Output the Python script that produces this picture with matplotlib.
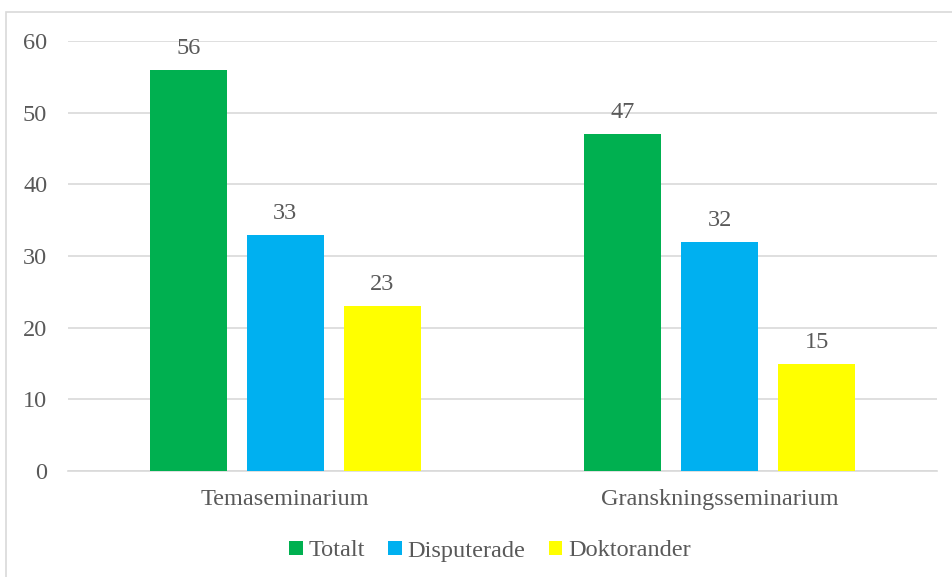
import matplotlib
matplotlib.use("Agg")
import matplotlib.pyplot as plt
import numpy as np
from matplotlib.patches import Rectangle

categories = ["Temaseminarium", "Granskningsseminarium"]
series = ["Totalt", "Disputerade", "Doktorander"]
totalt = [56, 47]
disputerade = [33, 32]
doktorander = [23, 15]
colors = ["#00B050", "#00B0F0", "#FFFF00"]

plt.rcParams['font.family'] = ['Liberation Serif', 'DejaVu Serif']
txt = "#595959"
fs = 17.5

fig = plt.figure(figsize=(9.52, 5.77), dpi=100)
fig.patches.append(Rectangle((6/952, -0.1), 1.2, 1.1 - 12/577, transform=fig.transFigure,
                             fill=False, edgecolor="#D9D9D9", linewidth=1.2))
ax = fig.add_axes([68/952, 1 - 471/577, (937-68)/952, (471-41)/577])

x = np.arange(len(categories))
w = 0.177
step = 0.223
for i, (vals, name) in enumerate(zip([totalt, disputerade, doktorander], series)):
    pos = x + (i - 1) * step
    bars = ax.bar(pos, vals, width=w, color=colors[i], label=name, zorder=3)
    for b, v in zip(bars, vals):
        ax.annotate(str(v), (b.get_x() + b.get_width()/2, v), xytext=(0, 11.5),
                    textcoords="offset points", ha="center", va="baseline",
                    fontsize=fs, color=txt)

ax.set_xlim(-0.5, 1.5)
ax.set_ylim(0, 60)
ax.set_yticks(range(0, 61, 10))
ax.yaxis.grid(True, color="#D9D9D9", linewidth=1.2, zorder=0)
for s in ["top", "right", "left"]:
    ax.spines[s].set_visible(False)
ax.spines["bottom"].set_color("#D9D9D9")
ax.spines["bottom"].set_linewidth(1.2)
ax.set_xticks(x)
ax.set_xticklabels(categories)
ax.tick_params(axis="both", length=0, labelsize=fs, colors=txt)
ax.tick_params(axis="x", pad=13)
ax.tick_params(axis="y", pad=15)

leg = fig.legend(loc="center", bbox_to_anchor=(0.5 + 14/952, 1 - 551/577), ncol=3, frameon=False,
                 fontsize=fs, handlelength=0.55, handleheight=0.55, handletextpad=0.25,
                 columnspacing=0.95, labelcolor=txt)

fig.savefig("out.png", dpi=100)
